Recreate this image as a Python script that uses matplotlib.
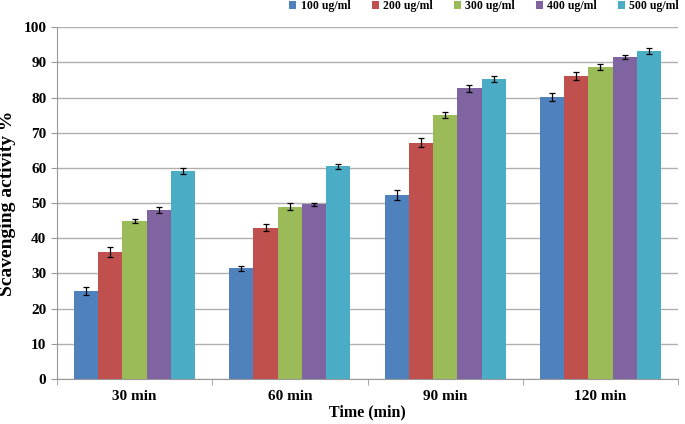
import numpy as np
import matplotlib.pyplot as plt

times = ["30 min", "60 min", "90 min", "120 min"]
concs = ["100 ug/ml", "200 ug/ml", "300 ug/ml", "400 ug/ml", "500 ug/ml"]
vals = [
    [25.0, 31.5, 52.3, 80.1],
    [36.0, 43.0, 67.2, 86.2],
    [45.0, 49.0, 75.0, 88.7],
    [48.0, 49.7, 82.6, 91.5],
    [59.2, 60.5, 85.2, 93.2],
]
errs = [
    [1.2, 0.7, 1.3, 1.2],
    [1.4, 1.0, 1.3, 1.1],
    [0.6, 1.0, 0.8, 0.8],
    [0.9, 0.4, 0.9, 0.6],
    [0.9, 0.7, 0.9, 0.9],
]
colors = ["#4F81BD", "#C0504D", "#9BBB59", "#8064A2", "#4BACC6"]

plt.rcParams["font.family"] = "Liberation Serif"
plt.rcParams["font.weight"] = "bold"

fig = plt.figure(figsize=(6.85, 4.24), dpi=100)
ax = fig.add_axes([0.083, 0.106, 0.907, 0.83])

x = np.arange(len(times))
w = 0.156
for i in range(len(concs)):
    ax.bar(x + (i - 2) * w, vals[i], w, color=colors[i], label=concs[i],
           yerr=errs[i], capsize=2.5, error_kw=dict(elinewidth=0.9, capthick=0.9, ecolor="black"),
           zorder=3)

ax.set_xlim(-0.5, 3.5)
ax.set_ylim(0, 100)
ax.set_yticks(range(0, 101, 10))
ax.set_xticks(x)
ax.set_xticklabels(times)
ax.set_xticks(np.arange(-0.5, 3.6, 1), minor=True)
ax.tick_params(axis="x", which="major", length=0, labelsize=11, pad=8)
ax.tick_params(axis="x", which="minor", length=4, color="#999999")
ax.tick_params(axis="y", length=4, color="#999999", labelsize=11)
ax.grid(axis="y", color="#b0b0b0", linewidth=1, zorder=0)
for s in ["top", "right"]:
    ax.spines[s].set_visible(False)
for s in ["left", "bottom"]:
    ax.spines[s].set_color("#999999")

ax.set_ylabel("Scavenging activity %", fontsize=14, fontweight="bold")
ax.yaxis.set_label_coords(-0.066, 0.5)
ax.set_xlabel("Time (min)", fontsize=11.5, fontweight="bold")
ax.xaxis.set_label_coords(0.5, -0.072)

fig.legend(loc="upper right", bbox_to_anchor=(1.007, 1.025), ncol=5, frameon=False,
           fontsize=8.5, handlelength=0.6, handleheight=0.6, handletextpad=0.35,
           columnspacing=1.8)

plt.savefig("out.png", dpi=100)
